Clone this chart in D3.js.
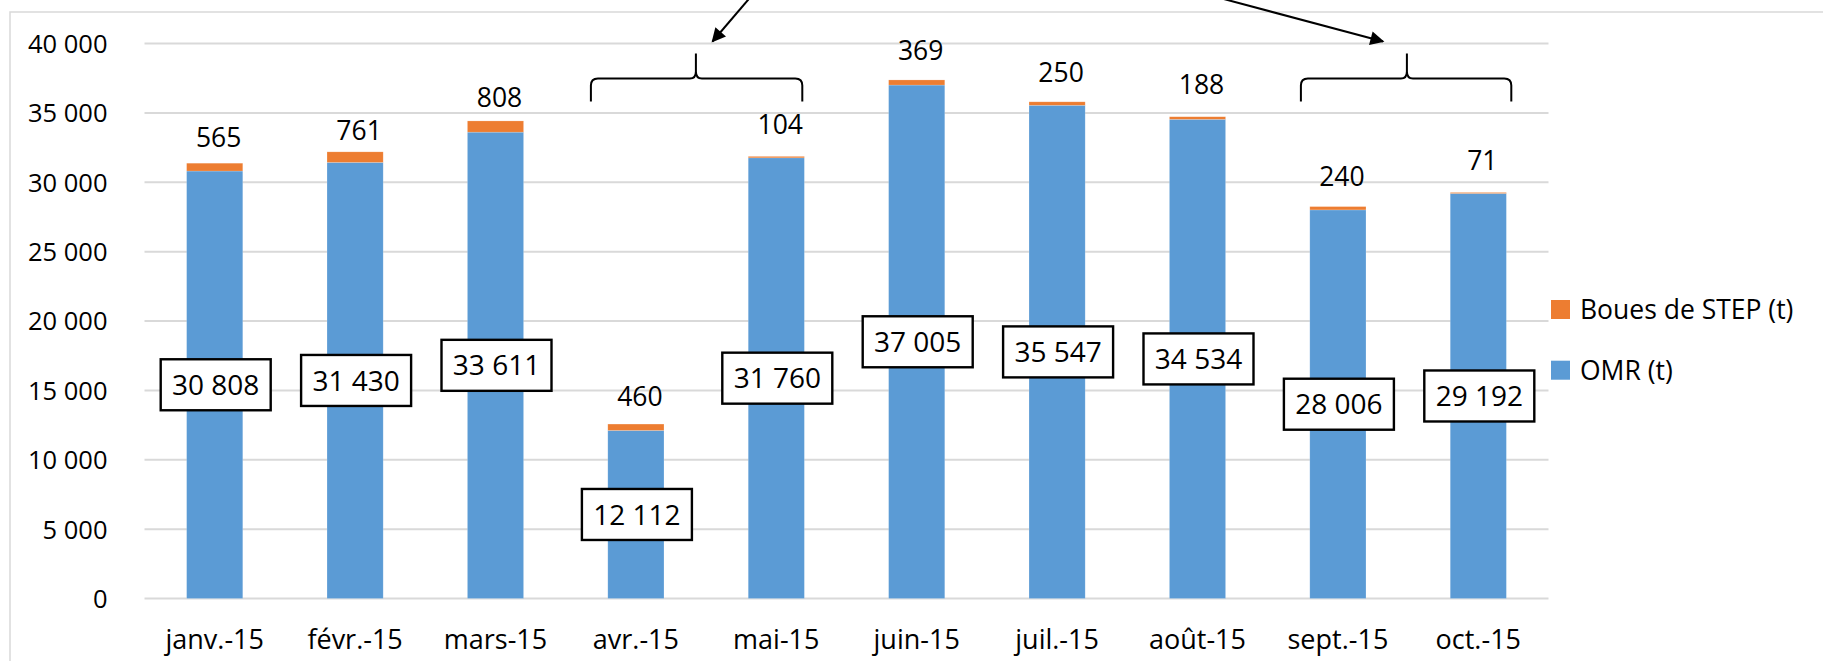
<!DOCTYPE html>
<html><head><meta charset="utf-8">
<script src="https://cdn.jsdelivr.net/npm/d3@7/dist/d3.min.js"></script>
<style>
body{margin:0;background:#fff}
text{font-family:"Open Sans",sans-serif;fill:#000}
</style>
</head><body>
<svg id="c" width="1823" height="661"></svg>
<script>
// ---- data ----
const categories = ["janv.-15","févr.-15","mars-15","avr.-15","mai-15","juin-15","juil.-15","août-15","sept.-15","oct.-15"];
const omr   = [30808,31430,33611,12112,31760,37005,35547,34534,28006,29192];
const boues = [565,761,808,460,104,369,250,188,240,71];
const yTicks = [0,5000,10000,15000,20000,25000,30000,35000,40000];
const seriesNames = ["Boues de STEP (t)","OMR (t)"];
const bouesLabelLift = [25,21,23,27,32,29,29,32,30,32];

// ---- setup ----
const W = 1823, H = 661;
const svg = d3.select("#c");
const colBlue = "#5B9BD5", colOrange = "#ED7D31", colGrid = "#D9D9D9";
const fr = d3.formatLocale({decimal:",", thousands:" ", grouping:[3], currency:["","€"]});
const fmt = fr.format(",d");

const x = d3.scaleBand().domain(categories).range([144.5, 1548.5]).paddingInner(0.6).paddingOuter(0.3);
const y = d3.scaleLinear().domain([0, 40000]).range([598.5, 43.5]);

// chart area border (top & left visible)
svg.append("rect").attr("x",10).attr("y",12).attr("width",W+20).attr("height",H+40)
  .attr("fill","none").attr("stroke",colGrid).attr("stroke-width",1.5);

// gridlines
svg.append("g").selectAll("line").data(yTicks).join("line")
  .attr("x1",144.5).attr("x2",1548.5)
  .attr("y1",d=>y(d)).attr("y2",d=>y(d))
  .attr("stroke",colGrid).attr("stroke-width",2);

// y axis labels
const yAxis = d3.axisLeft(y).tickValues(yTicks).tickFormat(fmt).tickSize(0).tickPadding(0);
const gy = svg.append("g").attr("transform","translate(107.5,0)").call(yAxis);
gy.select(".domain").remove();
gy.selectAll("text").style("font-family","'Open Sans',sans-serif").style("font-size","25.5px").attr("fill","#000").attr("dy","0.35em");

// x axis labels
const xAxis = d3.axisBottom(x).tickSize(0).tickPadding(0);
const gx = svg.append("g").attr("transform","translate(0,630)").call(xAxis);
gx.select(".domain").remove();
gx.selectAll("text").style("font-family","'Open Sans',sans-serif").style("font-size","27px").attr("fill","#000").attr("dy","0.7em");

// stacked bars
const rows = categories.map((c,i)=>({cat:c, omr:omr[i], boues:boues[i], lift:bouesLabelLift[i]}));
const stack = d3.stack().keys(["omr","boues"])(rows);
const colors = {omr:colBlue, boues:colOrange};
svg.append("g").selectAll("g").data(stack).join("g")
  .attr("fill",d=>colors[d.key])
  .selectAll("rect").data(d=>d).join("rect")
  .attr("x",d=>x(d.data.cat)).attr("width",x.bandwidth())
  .attr("y",d=>y(d[1])).attr("height",d=>y(d[0])-y(d[1]))
  .attr("stroke","#ffffff").attr("stroke-opacity",0.3).attr("stroke-width",0.6);

// boues labels above bars
svg.append("g").selectAll("text").data(rows).join("text")
  .attr("x",d=>x(d.cat)+x.bandwidth()/2+4)
  .attr("y",d=>y(d.omr+d.boues)-d.lift)
  .attr("dy","0.35em").attr("text-anchor","middle")
  .style("font-size","26.5px").text(d=>fmt(d.boues));

// OMR boxed labels centered on blue bar
const boxG = svg.append("g").selectAll("g").data(rows).join("g")
  .attr("transform",d=>`translate(${x(d.cat)+x.bandwidth()/2+1},${y(d.omr/2)})`);
boxG.append("rect").attr("x",-55).attr("y",-25.5).attr("width",110).attr("height",51)
  .attr("fill","#fff").attr("stroke","#000").attr("stroke-width",2.4);
boxG.append("text").attr("text-anchor","middle").attr("dy","0.36em")
  .style("font-size","28px").text(d=>fmt(d.omr));

// legend
const leg = svg.append("g").selectAll("g").data(seriesNames).join("g")
  .attr("transform",(d,i)=>`translate(1551,${300+i*60.7})`);
leg.append("rect").attr("width",19).attr("height",19).attr("fill",(d,i)=>i===0?colOrange:colBlue);
leg.append("text").attr("x",29).attr("y",9.5).attr("dy","0.36em").style("font-size","26.5px").text(d=>d);

// annotations: arrows and braces
const defs = svg.append("defs");
defs.append("marker").attr("id","ah").attr("viewBox","0 0 10 10").attr("refX",9).attr("refY",5)
  .attr("markerWidth",8).attr("markerHeight",7).attr("markerUnits","strokeWidth").attr("orient","auto")
  .append("path").attr("d","M0,0 L10,5 L0,10 Z").attr("fill","#000");

const ann = svg.append("g").attr("fill","none").attr("stroke","#000").attr("stroke-width",2);
function arrow(x0,y0,x1,y1){
  ann.append("line").attr("x1",x0).attr("y1",y0).attr("x2",x1).attr("y2",y1).attr("marker-end","url(#ah)");
}
function brace(xl,xr,xm){
  const yTop=53.5, yH=78.5, yB=101.5, r=7;
  const p = d3.path();
  p.moveTo(xl,yB);
  p.lineTo(xl,yH+r);
  p.quadraticCurveTo(xl,yH,xl+r,yH);
  p.lineTo(xm-6,yH);
  p.quadraticCurveTo(xm,yH,xm,yH-7);
  p.lineTo(xm,yTop);
  p.moveTo(xm,yH-7);
  p.quadraticCurveTo(xm,yH,xm+6,yH);
  p.lineTo(xr-r,yH);
  p.quadraticCurveTo(xr,yH,xr,yH+r);
  p.lineTo(xr,yB);
  ann.append("path").attr("d",p.toString());
}
const cx = c => x(c)+x.bandwidth()/2;
brace(cx("avr.-15")-45, cx("mai-15")+26, cx("avr.-15")+60);
brace(cx("sept.-15")-37, cx("oct.-15")+33, cx("sept.-15")+69);
arrow(756.5,-10,712.5,41.5);
arrow(1190,-10,1383,41.5);
</script>
</body></html>
